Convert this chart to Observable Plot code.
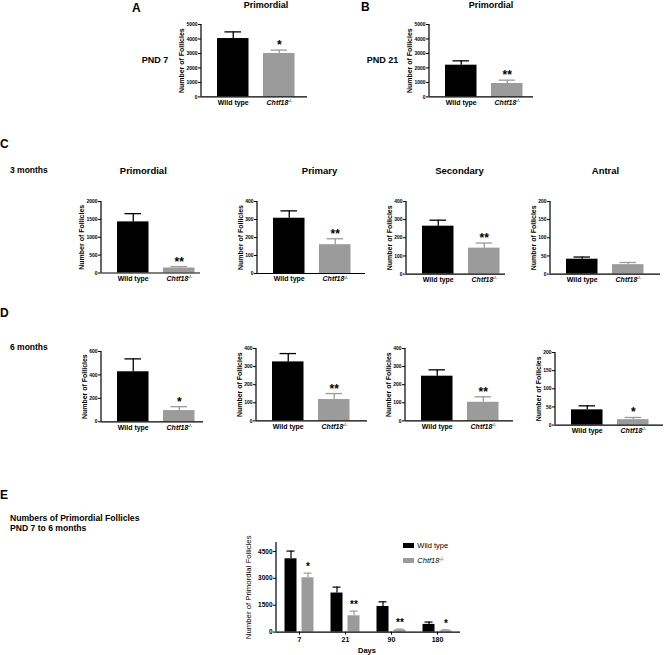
<!DOCTYPE html>
<html>
<head>
<meta charset="utf-8">
<script src="https://cdn.jsdelivr.net/npm/d3@7"></script>
<script src="https://cdn.jsdelivr.net/npm/@observablehq/plot@0.6"></script>
<style>
  body { margin: 0; background: #fff; }
  #fig { position: relative; width: 666px; height: 655px; background: #fff; overflow: hidden;
         font-family: "Liberation Sans", Arial, Helvetica, sans-serif; color: #000; }
  .lbl { position: absolute; white-space: nowrap; line-height: 1; }
  .sup { font-size: 0.6em; position: relative; top: -0.55em; font-style: normal; }
</style>
</head>
<body>
<div id="fig"></div>
<script>
// ---------------- DATA ----------------
const genotypes = ["Wild type", "Chtf18"];

const pnd7Mean = [4030, 3000],  pnd7Err = [460, 230],  pnd7Sig = ["", "*"];
const pnd21Mean = [2190, 925],  pnd21Err = [300, 230], pnd21Sig = ["", "**"];

const m3PrimordialMean = [1430, 140], m3PrimordialErr = [230, 40], m3PrimordialSig = ["", "**"];
const m3PrimaryMean = [307, 160],     m3PrimaryErr = [41, 33],     m3PrimarySig = ["", "**"];
const m3SecondaryMean = [264, 143],   m3SecondaryErr = [33, 28],   m3SecondarySig = ["", "**"];
const m3AntralMean = [41, 26],        m3AntralErr = [6, 6],        m3AntralSig = ["", ""];

const m6PrimordialMean = [427, 96],   m6PrimordialErr = [110, 33], m6PrimordialSig = ["", "*"];
const m6PrimaryMean = [326, 118],     m6PrimaryErr = [46, 33],     m6PrimarySig = ["", "**"];
const m6SecondaryMean = [247, 103],   m6SecondaryErr = [35, 30],   m6SecondarySig = ["", "**"];
const m6AntralMean = [42, 15],        m6AntralErr = [11, 6],       m6AntralSig = ["", "*"];

const yTicks5000 = [0, 1000, 2000, 3000, 4000, 5000];
const yTicks2000 = [0, 500, 1000, 1500, 2000];
const yTicks600 = [0, 200, 400, 600];
const yTicks400 = [0, 100, 200, 300, 400];
const yTicks200 = [0, 50, 100, 150, 200];

const days = ["7", "21", "90", "180"];
const wtDayMean = [4090, 2180, 1430, 430];
const wtDayErr = [430, 330, 260, 130];
const koDayMean = [3030, 910, 112, 74];
const koDayErr = [260, 260, 55, 56];
const koDaySig = ["*", "**", "**", "*"];
const eTicks = [0, 1500, 3000, 4500];
const eMax = 5000;

// ---------------- LAYOUT / STYLE ----------------
const FONT = '"Liberation Sans", Arial, Helvetica, sans-serif';
const fig = document.getElementById("fig");
const colorScale = {domain: genotypes, range: ["#000000", "#9b9b9b"]};

function place(node, left, top) {
  node.style.position = "absolute";
  node.style.left = left + "px";
  node.style.top = top + "px";
  fig.appendChild(node);
}

function label(html, x, yc, size, opts = {}) {
  const d = document.createElement("div");
  d.className = "lbl";
  d.innerHTML = html;
  d.style.fontSize = size + "px";
  d.style.fontWeight = opts.weight || "bold";
  if (opts.italic) d.style.fontStyle = "italic";
  d.style.left = x + "px";
  d.style.top = (yc - 0.49 * size) + "px";
  if (opts.center) d.style.transform = "translateX(-50%)";
  fig.appendChild(d);
  return d;
}

function yAxisLine(svg, xPos, yMax) {
  const y = svg.scale("y");
  d3.select(svg).append("line")
    .attr("x1", xPos).attr("x2", xPos)
    .attr("y1", y.apply(yMax)).attr("y2", y.apply(0))
    .attr("stroke", "#000").attr("stroke-width", 1.2);
}

function supKO(svg) {
  d3.select(svg).selectAll("text")
    .filter(function () { return this.textContent === "Chtf18"; })
    .each(function () {
      const t = d3.select(this);
      t.attr("font-style", "italic");
      t.append("tspan").attr("font-style", "normal").attr("font-size", "0.55em").attr("dy", "-0.7em").text("-/-");
    });
}

function smallPanel(p) {
  const mL = 34, mR = 4, mT = 12, mB = 16;
  const step = 46, bw = 31.5, lead = 16;
  const spare = p.innerW - step - bw;
  const rows = genotypes.map((g, i) => ({g, v: p.mean[i], top: p.mean[i] + p.err[i], s: p.sig[i]}));
  const max = p.ticks[p.ticks.length - 1];
  const labelDx = String(max).length >= 4 ? -19.5 : -17;
  const svg = Plot.plot({
    width: mL + p.innerW + mR,
    height: mT + (p.y0 - p.yTop) + mB,
    marginLeft: mL, marginRight: mR, marginTop: mT, marginBottom: mB,
    style: {background: "transparent", overflow: "visible", fontFamily: FONT, fontWeight: "bold", color: "#000"},
    x: {domain: genotypes, paddingInner: 1 - bw / step, paddingOuter: spare / (2 * step), align: lead / spare, round: false},
    y: {domain: [0, max]},
    color: colorScale,
    marks: [
      Plot.barY(rows, {x: "g", y: "v", fill: "g"}),
      Plot.ruleX(rows, {x: "g", y1: "v", y2: "top", stroke: "g", strokeWidth: 1.3}),
      Plot.tickY(rows, {x: "g", y: "top", stroke: "g", strokeWidth: 1.3, insetLeft: 7.5, insetRight: 7.5}),
      Plot.text(rows, {x: "g", y: "top", text: "s", dy: -1, lineAnchor: "bottom", fontSize: 12, fontWeight: "bold"}),
      Plot.ruleY([0], {stroke: "#000", strokeWidth: 1.2}),
      Plot.axisY({ticks: p.ticks, tickFormat: "d", tickSize: 3, tickPadding: 1, fontSize: 5, label: null}),
      Plot.axisX({tickSize: 0, tickPadding: 3, fontSize: 7, label: null}),
      Plot.text(["Number of Follicles"], {frameAnchor: "left", textAnchor: "middle", rotate: -90, dx: labelDx, fontSize: 7, fontWeight: "bold"})
    ]
  });
  yAxisLine(svg, mL, max);
  supKO(svg);
  place(svg, p.x0 - mL, p.yTop - mT);
}

const smallPanels = [
  {mean: pnd7Mean, err: pnd7Err, sig: pnd7Sig, ticks: yTicks5000, x0: 201, yTop: 24.3, y0: 96.7, innerW: 106},
  {mean: pnd21Mean, err: pnd21Err, sig: pnd21Sig, ticks: yTicks5000, x0: 429, yTop: 24.3, y0: 96.7, innerW: 104},
  {mean: m3PrimordialMean, err: m3PrimordialErr, sig: m3PrimordialSig, ticks: yTicks2000, x0: 101, yTop: 200.7, y0: 272.2, innerW: 99},
  {mean: m3PrimaryMean, err: m3PrimaryErr, sig: m3PrimarySig, ticks: yTicks400, x0: 256.7, yTop: 200.7, y0: 272.7, innerW: 108},
  {mean: m3SecondaryMean, err: m3SecondaryErr, sig: m3SecondarySig, ticks: yTicks400, x0: 406, yTop: 200.7, y0: 273.3, innerW: 99},
  {mean: m3AntralMean, err: m3AntralErr, sig: m3AntralSig, ticks: yTicks200, x0: 550, yTop: 200.7, y0: 273.3, innerW: 110},
  {mean: m6PrimordialMean, err: m6PrimordialErr, sig: m6PrimordialSig, ticks: yTicks600, x0: 100.7, yTop: 350.7, y0: 421, innerW: 102},
  {mean: m6PrimaryMean, err: m6PrimaryErr, sig: m6PrimarySig, ticks: yTicks400, x0: 256, yTop: 348.3, y0: 420.7, innerW: 111},
  {mean: m6SecondaryMean, err: m6SecondaryErr, sig: m6SecondarySig, ticks: yTicks400, x0: 405, yTop: 348.3, y0: 420.7, innerW: 108},
  {mean: m6AntralMean, err: m6AntralErr, sig: m6AntralSig, ticks: yTicks200, x0: 555, yTop: 351.7, y0: 424.3, innerW: 108}
];
smallPanels.forEach(smallPanel);

// ---------------- PANEL E ----------------
(function () {
  const mL = 40, mR = 6, mT = 10, mB = 22;
  const x0 = 276, yTop = 542.2, y0 = 631.8, innerW = 184;
  const rows = days.flatMap((d, i) => [
    {day: d, g: genotypes[0], v: wtDayMean[i], top: wtDayMean[i] + wtDayErr[i], s: ""},
    {day: d, g: genotypes[1], v: koDayMean[i], top: koDayMean[i] + koDayErr[i], s: koDaySig[i]}
  ]);
  const svg = Plot.plot({
    width: mL + innerW + mR,
    height: mT + (y0 - yTop) + mB,
    marginLeft: mL, marginRight: mR, marginTop: mT, marginBottom: mB,
    style: {background: "transparent", overflow: "visible", fontFamily: FONT, fontWeight: "bold", color: "#000"},
    fx: {domain: days, padding: 0},
    x: {domain: genotypes, paddingInner: 5 / 17, paddingOuter: 0.5, round: false, axis: null},
    y: {domain: [0, eMax]},
    color: colorScale,
    marks: [
      Plot.barY(rows, {fx: "day", x: "g", y: "v", fill: "g"}),
      Plot.ruleX(rows, {fx: "day", x: "g", y1: "v", y2: "top", stroke: "g", strokeWidth: 1.2}),
      Plot.tickY(rows, {fx: "day", x: "g", y: "top", stroke: "g", strokeWidth: 1.2, insetLeft: 2, insetRight: 2}),
      Plot.text(rows, {fx: "day", x: "g", y: "top", text: "s", dy: -3, lineAnchor: "bottom", fontSize: 10, fontWeight: "bold"}),
      Plot.ruleY([0], {stroke: "#000", strokeWidth: 1.2}),
      Plot.axisY({ticks: eTicks, tickFormat: "d", tickSize: 3, tickPadding: 1, fontSize: 6.5, label: null}),
      Plot.axisFx({anchor: "bottom", tickSize: 3, tickPadding: 1.5, fontSize: 7, label: null}),
      Plot.text(["Number of Primordial Follicles"], {fx: () => days[0], frameAnchor: "left", textAnchor: "middle", rotate: -90, dx: -28, fontSize: 7.8, fontWeight: "normal"})
    ]
  });
  yAxisLine(svg, mL, eMax);
  place(svg, x0 - mL, yTop - mT);

  // legend
  const sw = (top, h, color) => {
    const d = document.createElement("div");
    d.style.cssText = `position:absolute;left:402.7px;top:${top}px;width:11.6px;height:${h}px;background:${color};`;
    fig.appendChild(d);
  };
  sw(543.3, 5, colorScale.range[0]);
  sw(558.3, 4.6, colorScale.range[1]);
  label(genotypes[0], 417.3, 545.7, 7.5, {weight: "normal"});
  label('<i>' + genotypes[1] + '</i><span class="sup">-/-</span>', 417.3, 560.7, 7.5, {weight: "normal"});
})();

// ---------------- TEXT LABELS ----------------
label("A", 132, 7.5, 12);
label("Primordial", 266, 5.5, 9, {center: true});
label("PND 7", 141.7, 60.8, 9);
label("B", 361, 7.2, 12);
label("Primordial", 491, 5.5, 9, {center: true});
label("PND 21", 366.7, 60.8, 9);

label("C", 0, 144, 12);
label("3 months", 10, 170.3, 8.5);
label("Primordial", 143.3, 170.8, 9.5, {center: true});
label("Primary", 319.5, 170.8, 9.5, {center: true});
label("Secondary", 459.5, 170.8, 9.5, {center: true});
label("Antral", 605.5, 170.8, 9.5, {center: true});

label("D", 0, 313, 12);
label("6 months", 10, 346.7, 8.5);

label("E", 0, 495, 12);
label("Numbers of Primordial Follicles", 10, 518.5, 8.6);
label("PND 7 to 6 months", 10, 528.7, 8.6);
label("Days", 367, 650.3, 7.5, {center: true});
</script>
</body>
</html>
